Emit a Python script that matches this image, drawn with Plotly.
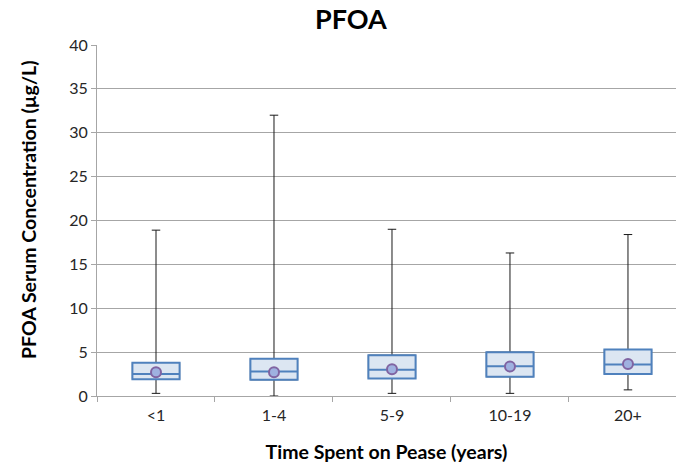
import plotly.graph_objects as go

# Serum PFOA by years spent on Pease
groups = ["<1", "1-4", "5-9", "10-19", "20+"]
minimum = [0.3, 0.0, 0.3, 0.3, 0.7]
q1 = [1.9, 1.85, 2.0, 2.2, 2.5]
median = [2.5, 2.8, 3.0, 3.4, 3.6]
q3 = [3.8, 4.25, 4.65, 5.0, 5.3]
maximum = [18.9, 32.0, 19.0, 16.3, 18.4]
mean = [2.7, 2.7, 3.05, 3.35, 3.65]

pos = list(range(len(groups)))
font = "Lato, 'Open Sans', sans-serif"

fig = go.Figure()

# whiskers with small end caps
fig.add_trace(go.Box(
    x=pos, q1=q1, median=median, q3=q3,
    lowerfence=minimum, upperfence=maximum,
    width=0.4, whiskerwidth=0.18,
    line=dict(color="#1a1a1a", width=1),
    fillcolor="rgba(0,0,0,0)", hoverinfo="skip", showlegend=False,
))

# box body: interquartile range and median
fig.add_trace(go.Box(
    x=pos, q1=q1, median=median, q3=q3,
    lowerfence=q1, upperfence=q3,
    width=0.4, whiskerwidth=0,
    line=dict(color="#4f81bd", width=2),
    fillcolor="#dce6f2", showlegend=False,
))

# group means
fig.add_trace(go.Scatter(
    x=pos, y=mean, mode="markers",
    marker=dict(symbol="circle", size=10, color="#9fb1e0",
                line=dict(color="#8064a2", width=2)),
    showlegend=False,
))

fig.update_layout(
    width=676, height=464,
    margin=dict(l=97, r=0, t=45, b=68),
    paper_bgcolor="white", plot_bgcolor="white",
    boxmode="overlay",
    font=dict(family=font, color="#262626"),
    title=dict(text="<b>PFOA</b>", x=0.519, xanchor="center",
               y=0.958, yanchor="middle",
               font=dict(size=27, color="#000000", family=font)),
    xaxis=dict(
        range=[-0.5, 4.407],
        tickvals=pos, ticktext=groups, ticks="",
        tickfont=dict(size=16, color="#262626"),
        ticklabelstandoff=5,
        showgrid=False, zeroline=False,
        showline=True, linecolor="#a6a6a6", linewidth=1,
        minor=dict(tick0=0.5, dtick=1, ticks="outside", ticklen=5,
                   tickcolor="#a6a6a6", showgrid=False),
        title=dict(text="<b>Time Spent on Pease (years)</b>",
                   font=dict(size=19.5, color="#000000"), standoff=22),
    ),
    yaxis=dict(
        range=[0, 40], dtick=5,
        tickfont=dict(size=16, color="#262626"),
        showgrid=True, gridcolor="#a6a6a6", gridwidth=1,
        zeroline=False,
        showline=True, linecolor="#a6a6a6", linewidth=1,
        ticks="outside", ticklen=5, tickcolor="#a6a6a6",
    ),
    annotations=[dict(
        text="<b>PFOA Serum Concentration (µg/L)</b>",
        xref="paper", yref="paper",
        x=(28 - 97) / 579, y=(396 - 210) / 351,
        xanchor="center", yanchor="middle", textangle=-90,
        showarrow=False, font=dict(size=19.5, color="#000000"),
    )],
)

fig.write_html("out.html")
